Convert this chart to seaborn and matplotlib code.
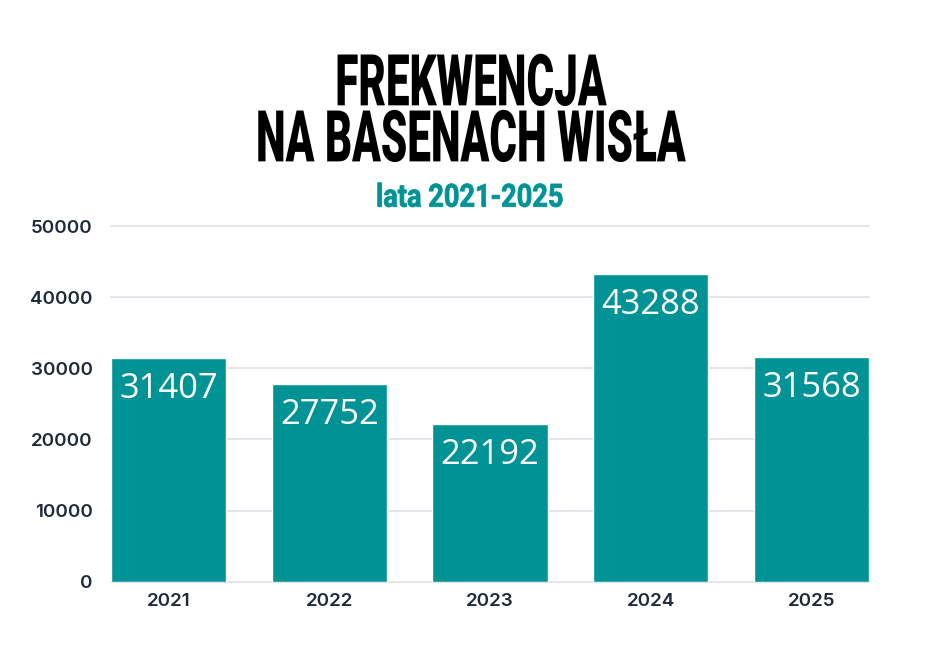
import matplotlib
matplotlib.use("Agg")
import matplotlib.pyplot as plt
import seaborn as sns
import pandas as pd
from matplotlib.patheffects import AbstractPathEffect
from matplotlib.transforms import Affine2D

# Attendance at the Wisła swimming pools
years = ["2021", "2022", "2023", "2024", "2025"]
visitors = [31407, 27752, 22192, 43288, 31568]
y_ticks = [0, 10000, 20000, 30000, 40000, 50000]

title_lines = ["FREKWENCJA", "NA BASENACH WISŁA"]
subtitle = "lata 2021-2025"

TEAL = "#009396"
NAVY = "#1c2b3b"
GRID = "#dfe3e7"


class Narrow(AbstractPathEffect):
    """Squeeze glyph outlines horizontally about their centre (condensed look)."""

    def __init__(self, sx, stroke=0.0):
        super().__init__()
        self.sx = sx
        self.stroke = stroke

    def draw_path(self, renderer, gc, tpath, affine, rgbFace=None):
        ext = tpath.get_extents(affine)
        cx = 0.5 * (ext.x0 + ext.x1)
        squeeze = affine + Affine2D().translate(-cx, 0).scale(self.sx, 1).translate(cx, 0)
        gc0 = renderer.new_gc()
        gc0.copy_properties(gc)
        if self.stroke and rgbFace is not None:
            gc0.set_linewidth(self.stroke)
            gc0.set_foreground(rgbFace)
            gc0.set_joinstyle("miter")
        renderer.draw_path(gc0, tpath, squeeze, rgbFace)
        gc0.restore()


sns.set_theme(style="white")
plt.rcParams["font.family"] = ["Inter", "DejaVu Sans"]

df = pd.DataFrame({"year": years, "visitors": visitors})

fig = plt.figure(figsize=(9.4, 6.5), dpi=100)
fig.patch.set_facecolor("white")
ax = fig.add_axes([0.1181, 0.1051, 0.8064, 0.5472])

sns.barplot(data=df, x="year", y="visitors", color=TEAL, saturation=1,
            width=0.716, ax=ax, zorder=3)

ax.set_xlim(-0.358, 4.358)
ax.set_ylim(0, 50000)
ax.set_yticks(y_ticks)
ax.set_yticklabels([str(t) for t in y_ticks])
ax.set_xlabel("")
ax.set_ylabel("")
ax.grid(False)
for s in ax.spines.values():
    s.set_visible(False)
for y in y_ticks:
    ax.axhline(y, color=GRID, linewidth=1.3, zorder=0, clip_on=False)

ax.tick_params(axis="y", length=0, pad=13, labelsize=13.5, labelcolor=NAVY)
ax.tick_params(axis="x", length=0, pad=8, labelsize=13.5, labelcolor=NAVY)
for lab in ax.get_xticklabels() + ax.get_yticklabels():
    lab.set_fontweight("semibold")

# value labels inside the bar tops
for i, v in enumerate(visitors):
    ax.annotate(str(v), xy=(i, v), xytext=(0, -10), textcoords="offset points",
                ha="center", va="top", color="white", fontsize=24.8,
                family=["Open Sans", "DejaVu Sans"], zorder=5)

# two-line heading, condensed
fig.text(0.5, 0.921, "\n".join(title_lines), ha="center", va="top",
         multialignment="center", linespacing=0.76, color="black",
         fontsize=51.5, fontweight="black", family=["Roboto", "DejaVu Sans"],
         path_effects=[Narrow(0.59)])
fig.text(0.5, 0.682, subtitle, ha="center", va="baseline", color=TEAL,
         fontsize=23, fontweight="bold", family=["Roboto", "DejaVu Sans"],
         path_effects=[Narrow(0.85, 0.6)])

fig.savefig("out.png", dpi=100, facecolor="white")
